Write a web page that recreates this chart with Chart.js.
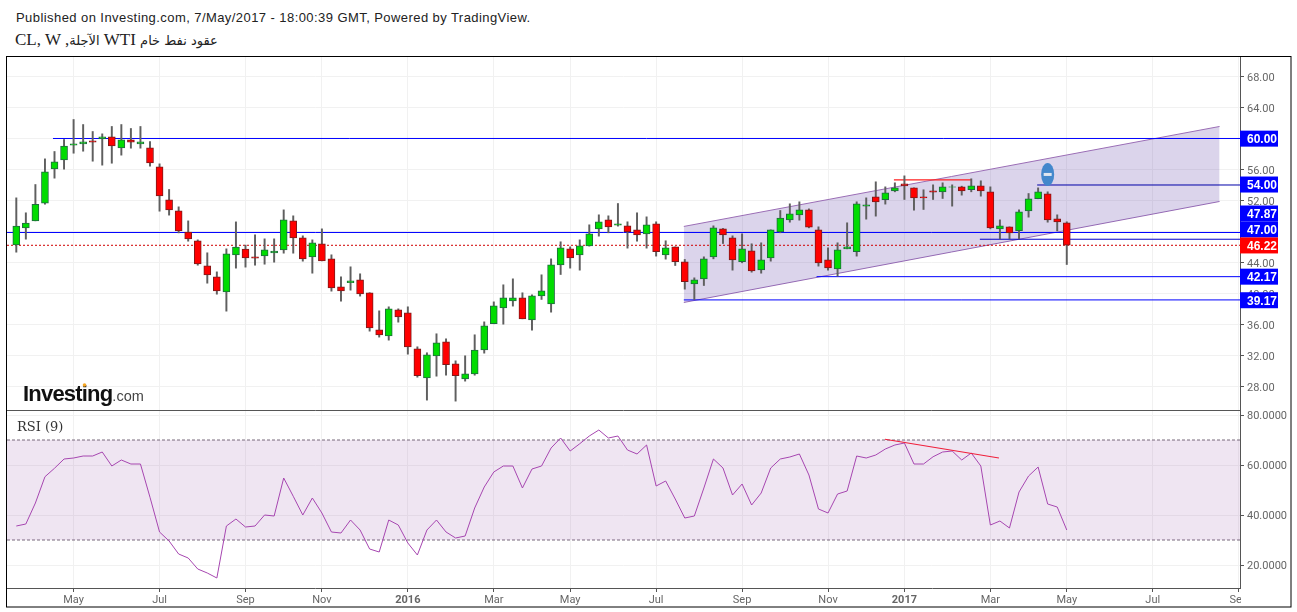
<!DOCTYPE html>
<html>
<head>
<meta charset="utf-8">
<script src="https://cdn.jsdelivr.net/npm/chart.js@4"></script>
<style>
  html, body { margin: 0; padding: 0; background: #fff; overflow: hidden; }
  #wrap { position: relative; width: 1297px; height: 612px; }
  #chart { position: absolute; left: 0; top: 0; }
  #pub { position: absolute; left: 16px; top: 10px; font: 13px "Liberation Sans", Arial, sans-serif; color: #222; white-space: nowrap; letter-spacing: 0.43px; }
  #sym { position: absolute; left: 15px; top: 30px; font: 17px "Liberation Serif", serif; color: #222; white-space: nowrap; }
  #sym span { font-family: "DejaVu Sans", sans-serif; font-size: 13px; }
</style>
</head>
<body>
<div id="wrap">
  <div id="pub">Published on Investing.com, 7/May/2017 - 18:00:39 GMT, Powered by TradingView.</div>
  <div id="sym" dir="ltr">CL, W ,<span>الآجلة</span> WTI <span>عقود نفط خام</span></div>
  <canvas id="chart" width="1297" height="612"></canvas>
</div>
<script>
// weekly candles
var opens = [46.28,48.47,49.37,51.65,56.08,57.24,59.14,59.31,59.70,59.95,60.21,58.79,59.83,59.31,58.79,56.34,52.08,50.66,47.91,46.79,43.57,42.15,40.21,44.99,45.72,44.73,44.86,45.25,45.63,49.37,47.18,44.73,46.41,44.47,40.86,41.38,41.76,40.09,35.31,34.54,37.89,37.50,32.86,29.12,31.96,33.76,30.93,28.99,29.63,32.73,36.09,38.15,39.05,39.44,36.60,39.70,38.67,43.70,45.76,44.99,46.15,48.34,49.51,48.82,48.73,48.20,47.70,48.99,44.99,46.02,44.09,41.25,41.89,44.73,48.34,47.18,44.09,45.50,43.05,44.60,47.96,49.50,50.15,50.80,48.21,44.34,43.18,45.76,45.38,51.27,52.47,52.09,53.25,54.15,53.63,52.47,53.25,53.12,53.72,53.76,53.38,53.89,53.12,48.34,48.60,48.09,50.67,52.22,52.86,49.63,49.12];
var highs = [52.34,50.41,54.06,57.37,58.32,59.87,62.45,61.80,60.90,60.60,61.55,61.80,61.29,61.55,59.61,56.73,53.42,51.18,49.37,46.92,45.25,42.79,45.76,49.24,46.24,47.57,47.05,47.05,50.79,50.02,47.44,46.92,48.34,44.99,42.15,43.44,42.54,40.10,37.76,38.28,38.02,38.28,33.12,32.35,34.80,34.15,31.31,31.96,34.67,36.34,38.92,41.12,41.89,40.09,39.83,42.41,44.47,46.67,46.02,46.92,48.86,50.15,50.02,51.61,49.25,50.41,49.89,49.25,46.80,46.02,44.39,42.02,44.73,48.73,48.39,47.44,47.70,46.41,46.54,48.21,50.71,51.57,51.83,50.92,48.60,45.89,46.54,49.12,51.83,52.34,54.41,53.76,54.28,55.18,53.63,53.38,54.02,54.28,54.02,53.85,54.80,54.54,53.76,49.50,48.60,50.79,52.90,53.63,53.12,50.15,49.25];
var lows = [45.33,47.01,49.37,51.52,54.88,56.04,58.10,58.36,57.07,56.56,56.81,57.85,58.75,58.75,56.43,50.62,50.11,47.82,46.75,43.65,41.33,39.91,37.72,43.27,43.40,43.65,43.78,44.04,45.20,45.20,44.17,42.62,44.21,40.30,39.01,40.43,39.66,35.14,34.37,33.98,36.30,32.17,29.20,26.24,29.33,29.46,26.11,28.69,29.46,32.30,36.09,36.04,38.37,36.73,35.27,39.23,37.59,42.45,43.27,43.01,46.11,47.40,47.83,48.69,45.85,46.75,45.85,44.82,44.43,43.61,40.56,39.23,41.03,44.47,46.45,43.01,43.96,42.75,42.62,44.17,47.83,49.20,49.46,48.47,43.53,43.01,42.24,45.76,44.82,49.59,49.98,51.53,53.12,52.13,50.75,50.84,52.13,52.26,51.27,52.69,53.12,52.56,48.34,47.05,47.05,47.05,49.85,52.22,49.20,48.09,43.74];
var closes = [48.69,49.07,51.52,55.70,56.99,59.01,59.31,59.57,59.52,60.21,59.05,59.83,59.52,59.57,56.86,52.60,50.79,48.08,47.05,43.83,42.41,40.34,45.11,45.98,44.60,44.56,45.63,45.46,49.50,47.18,44.47,46.54,44.21,40.73,40.34,41.63,39.96,35.57,34.67,38.02,36.99,33.12,29.38,32.09,33.63,30.80,29.38,29.63,32.69,35.83,38.41,39.44,39.44,36.73,39.70,40.34,43.70,45.89,44.60,46.15,47.70,49.25,48.60,48.99,47.96,47.57,48.86,45.38,45.89,44.09,41.51,41.76,44.47,48.47,47.57,44.34,45.76,42.92,44.34,48.21,49.72,50.28,50.80,48.56,43.96,43.31,45.63,46.02,51.57,51.44,51.83,52.99,53.63,53.89,52.34,52.34,53.08,53.76,53.76,53.25,53.89,53.25,48.47,48.73,47.83,50.54,52.22,53.12,49.50,49.25,46.22];
var rsiValues = [35.6,36.4,44.8,55.3,58.7,62.4,62.8,63.6,63.6,65.2,59.6,62,60.4,60.4,47.1,33.2,29.6,24.4,22.8,18.4,16.8,14.8,35.6,38.4,35.2,35.6,40,39.6,54.8,47.5,40,46.8,40.8,33.2,32.8,38,34,26.4,25.2,38,36,28.8,24,34,38,33.2,30.8,31.6,42.8,51.2,57.2,59.6,59.6,50.8,58.4,59.6,66.8,70.8,65.6,68.5,71.6,74,70.8,71.6,66,64.4,68,51.6,53.6,46.4,38.8,39.6,50.8,62.4,58.8,48,52.4,44,48.8,58.8,62.4,63.2,64.4,56,42.4,40.8,48.4,49.6,63.6,62.8,64,66.4,68,68.8,60.4,60.4,63.3,65.2,65.6,62,64.8,59.6,36,37.6,34.8,49.2,55.6,59.2,44.4,43.2,34];

var monthWeeks = [6,15,24,32,41,50,58,67,76,85,93,102,110,119,128];
var monthLabels = ['May','Jul','Sep','Nov','2016','Mar','May','Jul','Sep','Nov','2017','Mar','May','Jul','Sep'];
var priceTicks = [28,32,36,40,44,48,52,56,60,64,68];
var rsiTicks = [20,40,60,80];

// horizontal levels: start week, price, colour
var levelStarts = [3.84,-0.97,100.9,106.9,83.8,69.9];
var levelPrices = [60,47.87,47,54,42.17,39.17];
var levelColors = ['#0000ff','#0000ff','#0000c8','#0000a8','#0000ff','#0000ff'];

// price tags on the right axis, and the price each tag is centred on
var tagTexts = ['60.00','54.00','47.87','47.00','46.22','42.17','39.17'];
var tagCentres = [59.98,54.06,50.32,48.26,46.2,42.17,39.13];
var tagColors = ['#0000ff','#0000ff','#0000ff','#0000ff','#ff0000','#0000ff','#0000ff'];

var lastClose = 46.22;
var channelWeeks = [69.9,126];
var channelTop = [48.65,61.55];
var channelBottom = [38.84,51.87];
var redWeeks = [91.9,100];
var redPrices = [54.65,54.65];
var rsiTrendWeeks = [90.96,102.9];
var rsiTrendValues = [70.3,62.8];
var pinWeek = 108, pinPrice = 55.36;

var xMin = -0.974, xMax = 128.14;
var green = '#00dc00', red = '#ff0000';

function seg(xs, ys) {
  return xs.map(function (x, i) { return {x: x, y: ys[i]}; });
}

function lineSet(points, color, axis, extra) {
  return Object.assign({
    type: 'line', data: points, borderColor: color, borderWidth: 1,
    pointRadius: 0, yAxisID: axis, order: 3, fill: false
  }, extra || {});
}

var datasets = [
  // candles
  {
    data: opens.map(function (o, i) { return {x: i, y: [o, closes[i]]}; }),
    backgroundColor: opens.map(function (o, i) { return closes[i] >= o ? green : red; }),
    borderColor: opens.map(function (o, i) { return closes[i] >= o ? '#1f6b3f' : '#7d1a1a'; }),
    borderWidth: 1, borderSkipped: false, barThickness: 7, grouped: false, yAxisID: 'y', order: 1
  },
  {
    data: lows.map(function (l, i) { return {x: i, y: [l, highs[i]]}; }),
    backgroundColor: '#5f5f5f', barThickness: 1.3, grouped: false, yAxisID: 'y', order: 2
  },
  // channel
  lineSet(seg(channelWeeks, channelTop), '#9a6db5', 'y', {fill: '+1', backgroundColor: 'rgba(110,85,175,0.25)', order: 6}),
  lineSet(seg(channelWeeks, channelBottom), '#9a6db5', 'y', {order: 6}),
  // close line and red trend lines
  lineSet(seg([xMin, xMax], [lastClose, lastClose]), '#d00000', 'y', {borderDash: [2, 2], order: 4}),
  lineSet(seg(redWeeks, redPrices), '#ff2020', 'y', {borderWidth: 1.2}),
  // rsi
  lineSet(seg([xMin, xMax], [70, 70]), '#76687a', 'rsi', {borderDash: [3, 2], fill: '+1', backgroundColor: 'rgba(150,80,170,0.15)', order: 6}),
  lineSet(seg([xMin, xMax], [30, 30]), '#76687a', 'rsi', {borderDash: [3, 2], order: 6}),
  lineSet(rsiValues.map(function (v, i) { return {x: i, y: v}; }), '#a646b0', 'rsi', {order: 2}),
  lineSet(seg(rsiTrendWeeks, rsiTrendValues), '#f0203c', 'rsi', {borderWidth: 1.2, order: 1})
];
levelPrices.forEach(function (p, i) {
  datasets.push(lineSet(seg([levelStarts[i], xMax], [p, p]), levelColors[i], 'y'));
});

var overlay = {
  id: 'overlay',
  afterDraw: function (chart) {
    var c = chart.ctx, y = chart.scales.y, x = chart.scales.x, rsi = chart.scales.rsi, area = chart.chartArea;
    c.save();

    // clip the last month label at the axis
    c.fillStyle = '#fff';
    c.fillRect(area.right + 1, area.bottom + 1, 49, 18);

    // pane separator
    c.strokeStyle = '#555';
    c.lineWidth = 1;
    c.beginPath();
    c.moveTo(area.left, Math.round(rsi.top) + 0.5);
    c.lineTo(area.right, Math.round(rsi.top) + 0.5);
    c.stroke();

    // outer frame
    c.strokeStyle = '#000';
    c.strokeRect(area.left - 0.5, area.top - 0.5, chart.width - area.left - 5.5, chart.height - area.top - 4.5);

    // price tags
    c.font = 'bold 12px "Liberation Sans", Arial, sans-serif';
    c.textBaseline = 'middle';
    c.textAlign = 'left';
    tagTexts.forEach(function (t, i) {
      var py = y.getPixelForValue(tagCentres[i]);
      c.fillStyle = tagColors[i];
      c.fillRect(y.left, py - 8, 38, 16);
      c.fillStyle = '#fff';
      c.fillText(t, y.left + 7, py + 1);
    });

    // pin on the week it was set
    var px = x.getPixelForValue(pinWeek), pp = y.getPixelForValue(pinPrice);
    c.fillStyle = '#4388cc';
    c.beginPath();
    c.ellipse(px, pp, 6.5, 11.5, 0, 0, Math.PI * 2);
    c.fill();
    c.fillStyle = '#dfe6f0';
    c.fillRect(px - 4, pp - 1.5, 8, 3);

    // study name
    c.fillStyle = '#333';
    c.font = '13px "DejaVu Serif", serif';
    c.textBaseline = 'alphabetic';
    c.fillText('RSI (9)', area.left + 10, rsi.top + 21);

    // logo
    c.fillStyle = '#111';
    c.font = 'bold 22px "Liberation Sans", Arial, sans-serif';
    c.letterSpacing = '-0.8px';
    c.fillText('Investing', 23, y.bottom - 9);
    var w = c.measureText('Investing').width;
    c.letterSpacing = '0px';
    c.fillStyle = '#444';
    c.font = '14.5px "Liberation Sans", Arial, sans-serif';
    c.fillText('.com', 23 + w, y.bottom - 9);
    c.fillStyle = '#f5a623';
    c.beginPath();
    c.arc(84.5, 385, 1.8, 0, Math.PI * 2);
    c.fill();

    c.restore();
  }
};

var axisFont = {family: 'Roboto', size: 11};

new Chart('chart', {
  type: 'bar',
  data: {datasets: datasets},
  plugins: [overlay],
  options: {
    responsive: false,
    animation: false,
    devicePixelRatio: 1,
    layout: {padding: {top: 57, left: 7, right: 6, bottom: 5}},
    plugins: {legend: {display: false}, tooltip: {enabled: false}},
    scales: {
      x: {
        type: 'linear', min: xMin, max: xMax, offset: false,
        afterBuildTicks: function (s) { s.ticks = monthWeeks.map(function (v) { return {value: v}; }); },
        afterFit: function (s) { s.height = 19; },
        grid: {color: '#f1f1f1', tickColor: '#555', tickLength: 4, offset: false},
        border: {color: '#555'},
        ticks: {
          autoSkip: false, maxRotation: 0, color: '#666', padding: 2,
          font: function (ctx) {
            var bold = ctx.tick && /^20/.test(String(monthLabels[monthWeeks.indexOf(ctx.tick.value)]));
            return {family: 'Roboto', size: 11, weight: bold ? 'bold' : 'normal'};
          },
          callback: function (v) { return monthLabels[monthWeeks.indexOf(v)]; }
        }
      },
      y: {
        position: 'right', stack: 'panes', stackWeight: 353, min: 24.966, max: 70.515,
        afterBuildTicks: function (s) { s.ticks = priceTicks.map(function (v) { return {value: v}; }); },
        afterFit: function (s) { s.width = 51; },
        grid: {color: '#f1f1f1', tickColor: '#555', tickLength: 4},
        border: {color: '#555'},
        ticks: {autoSkip: false, color: '#666', padding: 3, labelOffset: 2, font: axisFont, callback: function (v) { return v.toFixed(2); }}
      },
      rsi: {
        position: 'right', stack: 'panes', stackWeight: 178, min: 10.8, max: 82,
        afterBuildTicks: function (s) { s.ticks = rsiTicks.map(function (v) { return {value: v}; }); },
        afterFit: function (s) { s.width = 51; },
        grid: {color: '#f1f1f1', tickColor: '#555', tickLength: 4},
        border: {color: '#555'},
        ticks: {autoSkip: false, color: '#666', padding: 3, labelOffset: 1, font: axisFont, callback: function (v) { return v.toFixed(4); }}
      }
    }
  }
});
</script>
</body>
</html>
